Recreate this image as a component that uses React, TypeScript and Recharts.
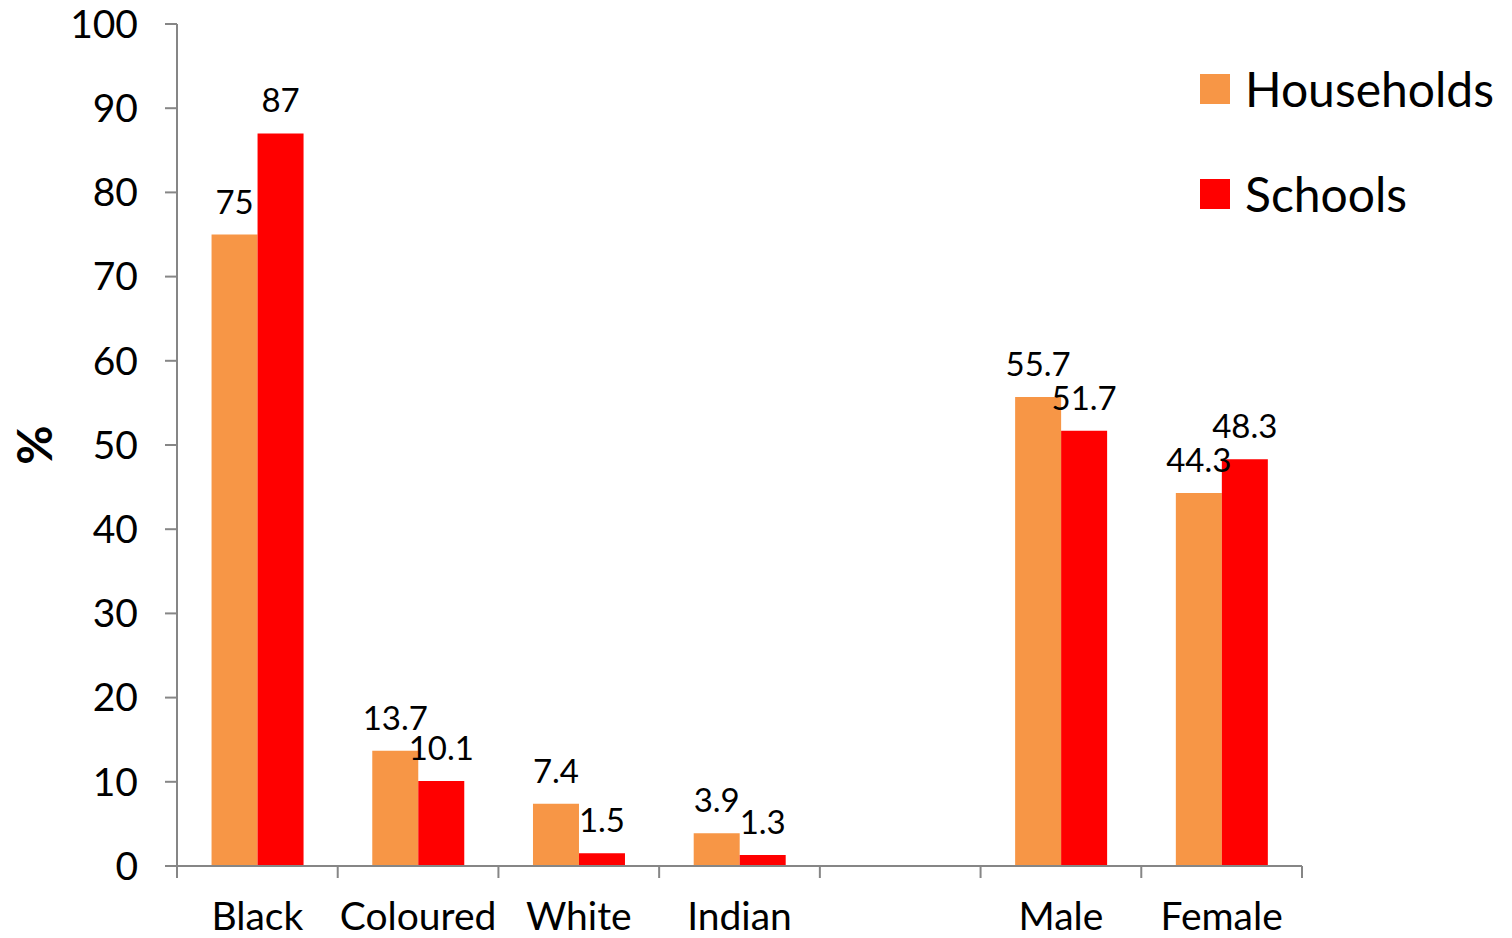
import React from 'react';
import { BarChart, Bar, XAxis, YAxis, Legend, LabelList } from 'recharts';

const categories = ['Black', 'Coloured', 'White', 'Indian', '', 'Male', 'Female'];
const households = [75, 13.7, 7.4, 3.9, null, 55.7, 44.3];
const schools = [87, 10.1, 1.5, 1.3, null, 51.7, 48.3];
const yTicks = [0, 10, 20, 30, 40, 50, 60, 70, 80, 90, 100];
const seriesNames = ['Households', 'Schools'];
const seriesColors = ['#F79646', '#FF0000'];

const data = categories.map((c, i) => ({
  category: c,
  households: households[i],
  schools: schools[i],
}));

const AXIS = '#868686';
const FONT = 'Lato, "Open Sans", sans-serif';

const CategoryTick = (props: any) => {
  const { x, y, payload, index } = props;
  const off = payload && typeof payload.offset === 'number' ? payload.offset : 0;
  const last = index === categories.length - 1;
  return (
    <g>
      <line x1={x - off} x2={x - off} y1={y} y2={y + 12} stroke={AXIS} strokeWidth={2} />
      {last && <line x1={x + off} x2={x + off} y1={y} y2={y + 12} stroke={AXIS} strokeWidth={2} />}
      <text x={x} y={y + 64} textAnchor="middle" fill="#000" fontSize={39} fontFamily={FONT}>
        {payload.value}
      </text>
    </g>
  );
};

const LegendContent = () => (
  <div style={{ fontFamily: FONT }}>
    {seriesNames.map((n, i) => (
      <div key={n} style={{ display: 'flex', alignItems: 'center', height: 105 }}>
        <div style={{ width: 30, height: 30, background: seriesColors[i], marginRight: 15 }} />
        <span style={{ fontSize: 48, lineHeight: '58px', color: '#000' }}>{n}</span>
      </div>
    ))}
  </div>
);

const YLabel = (props: any) => {
  const vb = props.viewBox || {};
  const cy = vb.y + vb.height / 2;
  const cx = 33;
  return (
    <text
      x={cx}
      y={cy}
      transform={`rotate(-90, ${cx}, ${cy})`}
      textAnchor="middle"
      dominantBaseline="central"
      fontSize={48}
      fontWeight="bold"
      fontFamily={FONT}
      fill="#000"
    >
      %
    </text>
  );
};

export default function App() {
  return (
    <div style={{ position: 'absolute', left: 0, top: 0, width: 1512, height: 938, background: '#fff', fontFamily: FONT }}>
      <BarChart
        width={1512}
        height={938}
        data={data}
        margin={{ top: 24, right: 210, bottom: 0, left: 0 }}
        barCategoryGap="21.5%"
        barGap={0}
      >
        <XAxis
          dataKey="category"
          height={72}
          tickSize={0}
          tickMargin={0}
          tickLine={false}
          axisLine={{ stroke: AXIS, strokeWidth: 2 }}
          tick={<CategoryTick />}
          interval={0}
        />
        <YAxis
          width={177}
          domain={[0, 100]}
          ticks={yTicks}
          tickSize={12}
          tickMargin={27}
          axisLine={{ stroke: AXIS, strokeWidth: 2 }}
          tickLine={{ stroke: AXIS, strokeWidth: 2 }}
          tick={{ fill: '#000', fontSize: 39, fontFamily: FONT }}
          interval={0}
          label={{ content: <YLabel /> }}
        />
        <Legend
          layout="vertical"
          align="center"
          verticalAlign="middle"
          wrapperStyle={{ position: 'absolute', left: 1200, top: 36, width: 312, height: 210 }}
          content={<LegendContent />}
        />
        <Bar dataKey="households" name={seriesNames[0]} fill={seriesColors[0]} isAnimationActive={false}>
          <LabelList dataKey="households" position="top" offset={21} fill="#000" fontSize={33} fontFamily={FONT} />
        </Bar>
        <Bar dataKey="schools" name={seriesNames[1]} fill={seriesColors[1]} isAnimationActive={false}>
          <LabelList dataKey="schools" position="top" offset={21} fill="#000" fontSize={33} fontFamily={FONT} />
        </Bar>
      </BarChart>
    </div>
  );
}
